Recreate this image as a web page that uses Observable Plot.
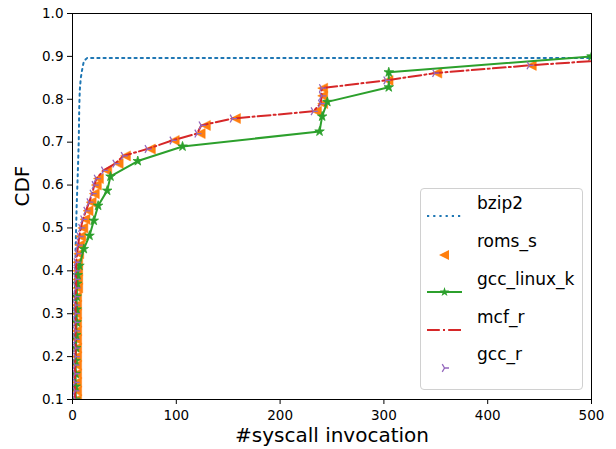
<!DOCTYPE html>
<html>
<head>
<meta charset="utf-8">
<script src="https://cdn.jsdelivr.net/npm/d3@7"></script>
<script src="https://cdn.jsdelivr.net/npm/@observablehq/plot@0.6"></script>
<style>
  body { margin: 0; background: #fff; }
  #wrap { position: relative; width: 616px; height: 449px; font-family: "DejaVu Sans", sans-serif; }
  #legend { position: absolute; left: 420px; top: 188px; width: 161px; height: 200px;
            border: 1px solid #d0d0d0; border-radius: 4px; background: rgba(255,255,255,0.8); }
  .lt { position: absolute; left: 477px; font-size: 17px; line-height: 20px; color: #000; white-space: nowrap; }
  .ls { position: absolute; left: 426px; }
</style>
</head>
<body>
<div id="wrap"></div>
<script>
// ---- data (value = #syscall invocation, cdf) ----
const xTicks = [0, 100, 200, 300, 400, 500];
const yTicks = [0.1, 0.2, 0.3, 0.4, 0.5, 0.6, 0.7, 0.8, 0.9, 1.0];
const seriesNames = ["bzip2", "roms_s", "gcc_linux_k", "mcf_r", "gcc_r"];

const bzip2Values = [2, 2.5, 3, 4, 5, 6, 6.5, 7, 8, 9, 10, 11, 14, 500];
const bzip2Cdf    = [0.1, 0.3, 0.45, 0.55, 0.62, 0.70, 0.78, 0.82, 0.85, 0.865, 0.878, 0.889, 0.896, 0.896];

const romsValues = [4, 4, 4, 4, 4, 4, 4, 4, 4, 4, 4, 4, 4, 5, 5, 5, 5, 6, 7, 8, 10, 12, 15, 18, 21, 23, 25, 33, 44, 51, 75, 98, 123, 128, 157, 235, 241, 241, 241, 304, 351, 442];
const romsCdf    = [0.10, 0.12, 0.14, 0.16, 0.18, 0.20, 0.22, 0.24, 0.26, 0.28, 0.30, 0.32, 0.34, 0.36, 0.38, 0.40, 0.42, 0.44, 0.46, 0.48, 0.50, 0.52, 0.54, 0.56, 0.58, 0.60, 0.615, 0.634, 0.65, 0.668, 0.684, 0.704, 0.72, 0.739, 0.755, 0.772, 0.79, 0.808, 0.826, 0.844, 0.861, 0.879];

const gccLinuxValues = [3, 3, 3, 3, 3.5, 3.5, 4, 4, 4, 4.5, 5, 6.7, 10.9, 16.4, 20.5, 24.7, 33.4, 36.6, 62.9, 106, 238, 240.5, 245.5, 304.7, 304.7, 500];
const gccLinuxCdf    = [0.10, 0.13, 0.16, 0.19, 0.22, 0.25, 0.28, 0.31, 0.34, 0.37, 0.39, 0.412, 0.451, 0.482, 0.517, 0.552, 0.587, 0.62, 0.656, 0.69, 0.725, 0.76, 0.794, 0.828, 0.863, 0.90];

const mcfValues = [2.5, 2.5, 2.5, 2.5, 2.5, 3, 3, 3, 3, 3, 3, 3, 3, 3.5, 3.5, 3.5, 3.5, 4.5, 5.5, 6.5, 8, 10, 13, 16, 19, 21, 23, 30, 41, 49, 72, 96, 120, 124, 154, 232, 239, 240, 240, 302, 349, 440, 500];
const mcfCdf    = [0.10, 0.12, 0.14, 0.16, 0.18, 0.20, 0.22, 0.24, 0.26, 0.28, 0.30, 0.32, 0.34, 0.36, 0.38, 0.40, 0.42, 0.44, 0.46, 0.48, 0.50, 0.52, 0.54, 0.56, 0.58, 0.60, 0.615, 0.634, 0.65, 0.668, 0.684, 0.704, 0.72, 0.739, 0.755, 0.772, 0.79, 0.808, 0.826, 0.844, 0.861, 0.879, 0.889];

const gccRValues = [2.5, 2.5, 2.5, 2.5, 2.5, 3, 3, 3, 3, 3, 3, 3, 3, 3.5, 3.5, 3.5, 3.5, 4.5, 5.5, 6.5, 8, 10, 13, 16, 19, 21, 23, 30, 41, 49, 72, 96, 120, 124, 154, 232, 239, 240, 240, 302, 349, 440];
const gccRCdf    = [0.10, 0.12, 0.14, 0.16, 0.18, 0.20, 0.22, 0.24, 0.26, 0.28, 0.30, 0.32, 0.34, 0.36, 0.38, 0.40, 0.42, 0.44, 0.46, 0.48, 0.50, 0.52, 0.54, 0.56, 0.58, 0.60, 0.615, 0.634, 0.65, 0.668, 0.684, 0.704, 0.72, 0.739, 0.755, 0.772, 0.79, 0.808, 0.826, 0.844, 0.861, 0.879];

const colors = {bzip2: "#1f77b4", roms_s: "#ff7f0e", gcc_linux_k: "#2ca02c", mcf_r: "#d62728", gcc_r: "#9467bd"};

const zip = (xs, ys) => xs.map((x, i) => ({x, y: ys[i]}));
const bzip2 = zip(bzip2Values, bzip2Cdf);
const roms = zip(romsValues, romsCdf);
const gccLinux = zip(gccLinuxValues, gccLinuxCdf);
const mcf = zip(mcfValues, mcfCdf);
const gccR = zip(gccRValues, gccRCdf);

// ---- custom matplotlib-like marker symbols ----
const triLeft = {draw(ctx, size) { const r = Math.sqrt(size / Math.PI);
  ctx.moveTo(-r, 0); ctx.lineTo(r, -r); ctx.lineTo(r, r); ctx.closePath(); }};
const star = {draw(ctx, size) { const r = Math.sqrt(size / Math.PI);
  for (let k = 0; k < 10; k++) { const a = -Math.PI / 2 + k * Math.PI / 5; const rr = k % 2 ? r * 0.382 : r;
    const px = rr * Math.cos(a), py = rr * Math.sin(a); if (k === 0) ctx.moveTo(px, py); else ctx.lineTo(px, py); }
  ctx.closePath(); }};
const triRight = {draw(ctx, size) { const r = Math.sqrt(size / Math.PI);
  ctx.moveTo(0, 0); ctx.lineTo(r, 0);
  ctx.moveTo(0, 0); ctx.lineTo(-0.5 * r, -0.866 * r);
  ctx.moveTo(0, 0); ctx.lineTo(-0.5 * r, 0.866 * r); }};

const dotDash = "2.2,4";
const chart = Plot.plot({
  width: 616, height: 449,
  marginLeft: 72, marginRight: 25, marginTop: 13, marginBottom: 50,
  style: {fontFamily: "DejaVu Sans, sans-serif", fontSize: "13.5px", color: "#000", background: "#fff"},
  x: {domain: [0, 500]},
  y: {domain: [0.1, 1.0]},
  marks: [
    Plot.line(bzip2, {x: "x", y: "y", stroke: colors.bzip2, strokeWidth: 2, strokeDasharray: dotDash, clip: true}),
    Plot.dot(roms, {x: "x", y: "y", symbol: triLeft, r: 5, fill: colors.roms_s, stroke: colors.roms_s, strokeWidth: 0.5, clip: true}),
    Plot.line(gccLinux, {x: "x", y: "y", stroke: colors.gcc_linux_k, strokeWidth: 2, clip: true}),
    Plot.dot(gccLinux, {x: "x", y: "y", symbol: star, r: 5, fill: colors.gcc_linux_k, stroke: colors.gcc_linux_k, strokeWidth: 0.8, clip: true}),
    Plot.line(mcf, {x: "x", y: "y", stroke: colors.mcf_r, strokeWidth: 2, strokeDasharray: "12.8,3.2,2,3.2", clip: true}),
    Plot.dot(gccR, {x: "x", y: "y", symbol: triRight, r: 4.5, fill: "none", stroke: colors.gcc_r, strokeWidth: 1.3, clip: true}),
    Plot.frame({stroke: "#000", strokeWidth: 1}),
    Plot.axisX({ticks: xTicks, tickSize: 5, tickPadding: 6, label: null, tickFormat: d3.format("d")}),
    Plot.axisY({ticks: yTicks, tickSize: 5, tickPadding: 4, label: null, tickFormat: d3.format(".1f")}),
    Plot.text(["#syscall invocation"], {frameAnchor: "bottom", dy: 42, fontSize: 20, text: d => d}),
    Plot.text(["CDF"], {frameAnchor: "left", dx: -50, rotate: -90, fontSize: 20, text: d => d})
  ]
});

const wrap = document.getElementById("wrap");
wrap.appendChild(chart);
chart.style.position = "absolute"; chart.style.left = "0"; chart.style.top = "0";

// ---- legend ----
const legend = document.createElement("div");
legend.id = "legend";
wrap.appendChild(legend);
const textY = [203, 241, 279, 317, 354];
const sampleY = [213, 252, 289, 327, 365];
const samples = {
  bzip2: `<line x1="1" y1="6" x2="36" y2="6" stroke="${colors.bzip2}" stroke-width="2" stroke-dasharray="${dotDash}"/>`,
  roms_s: `<path d="M13,6 L23,1 L23,11 Z" fill="${colors.roms_s}"/>`,
  gcc_linux_k: `<line x1="1" y1="6" x2="36" y2="6" stroke="${colors.gcc_linux_k}" stroke-width="2"/>` +
    `<path transform="translate(18.5,6)" d="${(() => { const p = d3.path(); star.draw(p, 25 * Math.PI); return p.toString(); })()}" fill="${colors.gcc_linux_k}"/>`,
  mcf_r: `<line x1="1" y1="6" x2="36" y2="6" stroke="${colors.mcf_r}" stroke-width="2" stroke-dasharray="12.8,3.2,2,3.2"/>`,
  gcc_r: `<path transform="translate(18.5,6)" d="${(() => { const p = d3.path(); triRight.draw(p, 4.5 * 4.5 * Math.PI); return p.toString(); })()}" fill="none" stroke="${colors.gcc_r}" stroke-width="1.3"/>`
};
seriesNames.forEach((name, i) => {
  const t = document.createElement("div");
  t.className = "lt"; t.textContent = name; t.style.top = (textY[i] - 10) + "px";
  wrap.appendChild(t);
  const s = document.createElement("div");
  s.className = "ls"; s.style.top = (sampleY[i] - 6) + "px";
  s.innerHTML = `<svg width="38" height="12">${samples[name]}</svg>`;
  wrap.appendChild(s);
});
</script>
</body>
</html>
